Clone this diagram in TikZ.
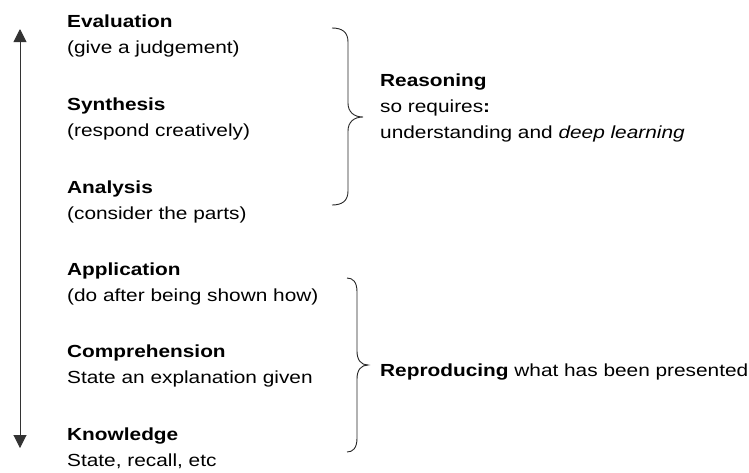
\documentclass[tikz,border=0pt]{standalone}
\usepackage{fontspec}
\setmainfont{Liberation Sans}
\usetikzlibrary{arrows.meta}
% slightly widened lettering
\newcommand{\widetext}[1]{\scalebox{1.19}[1]{#1}}
\begin{document}
\begin{tikzpicture}[x=1pt,y=-1pt,
  lbl/.style={anchor=base west,inner sep=0pt,font=\fontsize{17.5}{21}\selectfont},
  bracket/.style={draw=black!85,line width=0.9pt},
  scale arrow/.style={draw=black!80,line width=1pt,{Triangle[width=13pt,length=13pt]}-{Triangle[width=13pt,length=13pt]}}]
\useasboundingbox (0,0) rectangle (749,472);

% vertical scale of levels
\coordinate (top) at (20,29);
\coordinate (bot) at (20,448);
\draw[scale arrow] (top) -- (bot);

% the six levels
\node[lbl] (eval)  at (67,27)  {\widetext{\textbf{Evaluation}}};
\node[lbl] (evald) at (67,53)  {\widetext{(give a judgement)}};
\node[lbl] (syn)   at (67,110) {\widetext{\textbf{Synthesis}}};
\node[lbl] (synd)  at (67,136) {\widetext{(respond creatively)}};
\node[lbl] (ana)   at (67,193) {\widetext{\textbf{Analysis}}};
\node[lbl] (anad)  at (67,219) {\widetext{(consider the parts)}};
\node[lbl] (app)   at (67,275) {\widetext{\textbf{Application}}};
\node[lbl] (appd)  at (67,301) {\widetext{(do after being shown how)}};
\node[lbl] (comp)  at (67,357) {\widetext{\textbf{Comprehension}}};
\node[lbl] (compd) at (67,383) {\widetext{State an explanation given}};
\node[lbl] (know)  at (67,440) {\widetext{\textbf{Knowledge}}};
\node[lbl] (knowd) at (67,466) {\widetext{State, recall, etc}};

% upper bracket
\draw[bracket] (332,28) .. controls (342,28) and (348,32) .. (348,42) -- (348,103)
  .. controls (348,112) and (354,117) .. (363,117)
  .. controls (354,117) and (348,122) .. (348,131) -- (348,191)
  .. controls (348,201) and (342,205) .. (332,205);
% lower bracket
\draw[bracket] (347,278) .. controls (353,278) and (357,282) .. (357,292) -- (357,351)
  .. controls (357,360) and (361,365) .. (368,365)
  .. controls (361,365) and (357,370) .. (357,379) -- (357,438)
  .. controls (357,448) and (353,452) .. (347,452);

% summaries
\node[lbl] (reas)  at (380,86)  {\widetext{\textbf{Reasoning}}};
\node[lbl] (reqs)  at (380,112) {\widetext{so requires\textbf{:}}};
\node[lbl] (deep)  at (380,138) {\widetext{understanding and \textit{deep learning}}};
\node[lbl] (repro) at (380,376) {\widetext{\textbf{Reproducing} what has been presented}};
\end{tikzpicture}
\end{document}
